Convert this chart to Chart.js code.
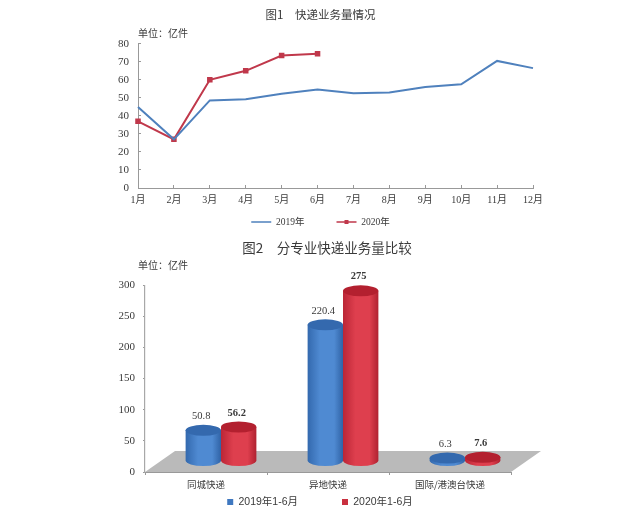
<!DOCTYPE html>
<html><head><meta charset="utf-8">
<script src="https://cdn.jsdelivr.net/npm/chart.js@4"></script>
<style>
html,body{margin:0;padding:0;background:#fff}
#a,#b{position:absolute;left:0;filter:blur(0.55px)}
#a{top:0}#b{top:235px}
</style></head><body>
<div id="a" style="width:630px;height:234px"><canvas id="c1"></canvas></div>
<div id="b" style="width:630px;height:279px"><canvas id="c2"></canvas></div>
<script>
const months=['1月','2月','3月','4月','5月','6月','7月','8月','9月','10月','11月','12月'];
const lineTicksMax=80;
const y2019=[45,27,48.6,49.3,52.3,54.6,52.5,53,56,57.5,70.5,66.5];
const y2020=[37,27,60,65,73.5,74.5];
const cats=['同城快递','异地快递','国际/港澳台快递'];
const h1=[50.8,220.4,6.3];
const h2=[56.2,275,7.6];
const h1Labels=['50.8','220.4','6.3'];
const h2Labels=['56.2','275','7.6'];
const serif='"Liberation Serif","Noto Sans CJK SC",serif';
const cjk='"Noto Sans CJK SC",sans-serif';
const ink='#3a3a3a';
Chart.defaults.animation=false;
Chart.defaults.responsive=true;
Chart.defaults.maintainAspectRatio=false;
Chart.defaults.devicePixelRatio=1;

const unitText=(x,y)=>({id:'unit',afterDraw(c){const g=c.ctx;g.save();g.font='10px '+cjk;g.fillStyle=ink;g.textAlign='left';g.textBaseline='middle';g.fillText('单位：亿件',x,y);g.restore();}});

/* The legend's horizontal item gap and its vertical padding share one option: keep the gap, report a short box. */
const slimLegend=(H,dx,titleDx,after)=>({id:'slimLegend',beforeLayout(c){
  const l=c.legend;if(l._slim)return;l._slim=true;
  const fit=l.fit.bind(l),draw=l._draw.bind(l);
  l.fit=()=>{fit();l.height=H;};
  l._draw=()=>{const g=c.ctx,p=l.options.labels.padding,fs=l.options.labels.font.size;
    g.save();g.translate(dx,-(p+fs/2-H/2));draw();if(after)after(c,g);g.restore();};
  const t=c.titleBlock,td=t.draw.bind(t);
  t.draw=()=>{c.ctx.save();c.ctx.translate(titleDx,0);td();c.ctx.restore();};
}});
const marker=(c,g)=>{const b=c.legend.legendHitBoxes[1];g.fillStyle='#c0384b';const cx=b.left+10,cy=b.top+b.height/2;g.fillRect(cx-2,cy-2,4,4);};

new Chart(document.getElementById('c1'),{type:'line',
 data:{labels:months,datasets:[
  {label:'2019年',data:y2019,borderColor:'#4f81bd',backgroundColor:'#4f81bd',borderWidth:2,pointRadius:0,tension:0},
  {label:'2020年',data:y2020,borderColor:'#c0384b',backgroundColor:'#c0384b',borderWidth:2,pointStyle:'rect',pointRadius:2.5,pointBackgroundColor:'#c0384b',pointBorderColor:'#c0384b',tension:0}
 ]},
 options:{
  layout:{padding:{left:108,right:97,top:0,bottom:4}},
  plugins:{
   title:{display:true,text:'图1　快递业务量情况',color:ink,font:{family:cjk,size:11.5,weight:'normal'},padding:{top:8,bottom:22}},
   legend:{position:'bottom',labels:{boxWidth:20,boxHeight:0,color:ink,font:{family:serif,size:9.5},padding:32,
     generateLabels(c){return c.data.datasets.map((d,i)=>({text:d.label,fillStyle:d.borderColor,strokeStyle:d.borderColor,lineWidth:1.5,datasetIndex:i,fontColor:ink}));}}},
   tooltip:{enabled:false}
  },
  scales:{
   x:{offset:false,grid:{drawOnChartArea:false,tickLength:-3,color:'#999',tickColor:'#999'},border:{color:'#999',width:1},
      ticks:{color:ink,font:{family:serif,size:10},padding:9,maxRotation:0,autoSkip:false},afterFit(s){s.height=26;}},
   y:{min:0,max:lineTicksMax,grid:{drawOnChartArea:false,tickLength:-3,color:'#999',tickColor:'#999'},border:{color:'#999',width:1},
      ticks:{stepSize:10,color:ink,font:{family:serif,size:11},padding:12},afterFit(s){s.width=30;}}
  }},
 plugins:[unitText(138,33),slimLegend(16,0,0,marker)]
});

/* 3-D look: floor and cylinders are painted from the bar elements' own scale positions */
const DX=15,DY=-10,BASE_DY=-11;
const colours=[{l:'#3369ae',m:'#4f8ad2',d:'#3063a6',t:'#3469ae'},{l:'#bb2636',m:'#de3f4e',d:'#b02231',t:'#b3202f'}];
const depth={id:'depth',
 beforeDatasetsDraw(c){
  const g=c.ctx,a=c.chartArea,y0=c.scales.y.getPixelForValue(0);
  g.save();g.fillStyle='#bababa';g.beginPath();
  g.moveTo(a.left,y0);g.lineTo(a.left+30,y0-21);g.lineTo(a.right+30,y0-21);g.lineTo(a.right,y0);g.closePath();g.fill();g.restore();
 },
 afterDatasetsDraw(c){
  const g=c.ctx;
  [0,1].forEach(ds=>{
   c.getDatasetMeta(ds).data.forEach((b,i)=>{
    const w=b.width,x=b.x+DX,top=b.y+DY,bot=b.base+BASE_DY,rx=w/2,ry=5.5,col=colours[ds];
    const gr=g.createLinearGradient(x-rx,0,x+rx,0);
    gr.addColorStop(0,col.l);gr.addColorStop(.35,col.m);gr.addColorStop(.75,col.m);gr.addColorStop(1,col.d);
    g.save();g.fillStyle=gr;g.beginPath();
    g.moveTo(x-rx,top);g.lineTo(x-rx,bot);g.ellipse(x,bot,rx,ry,0,Math.PI,0,true);g.lineTo(x+rx,top);g.closePath();g.fill();
    g.fillStyle=col.t;g.beginPath();g.ellipse(x,top,rx,ry,0,0,Math.PI*2);g.fill();
    g.fillStyle=ink;g.textAlign='center';g.textBaseline='middle';
    g.font=(ds?'bold ':'')+'10.5px '+serif;
    g.fillText((ds?h2Labels:h1Labels)[i],x-2,top-14);
    g.restore();
   });
  });
 }
};
new Chart(document.getElementById('c2'),{type:'bar',
 data:{labels:cats,datasets:[
  {label:'2019年1-6月',data:h1,backgroundColor:'rgba(79,129,189,0)',borderWidth:0,categoryPercentage:.58,barPercentage:1,legendColor:'#3f78c0'},
  {label:'2020年1-6月',data:h2,backgroundColor:'rgba(192,56,75,0)',borderWidth:0,categoryPercentage:.58,barPercentage:1,legendColor:'#c9303f'}
 ]},
 options:{
  layout:{padding:{left:114,right:119,top:0,bottom:4}},
  plugins:{
   title:{display:true,text:'图2　分专业快递业务量比较',color:ink,font:{family:cjk,size:13.5,weight:'normal'},padding:{top:5,bottom:29}},
   legend:{position:'bottom',labels:{boxWidth:6,boxHeight:6,color:ink,font:{family:'"Liberation Sans","Noto Sans CJK SC",sans-serif',size:10.5},padding:44,
     generateLabels(c){return c.data.datasets.map((d,i)=>({text:d.label,fillStyle:d.legendColor,strokeStyle:d.legendColor,lineWidth:0,datasetIndex:i,fontColor:ink}));}}},
   tooltip:{enabled:false}
  },
  scales:{
   x:{grid:{drawOnChartArea:false,tickLength:3,color:'#999',tickColor:'#999',offset:true},border:{color:'#999',width:1},
      ticks:{color:ink,font:{family:cjk,size:9.5},padding:4,maxRotation:0,autoSkip:false},afterFit(s){s.height=22;}},
   y:{min:0,max:300,grid:{drawOnChartArea:false,tickLength:2,color:'#999',tickColor:'#999'},border:{color:'#a8a8a8',width:1.2},
      ticks:{stepSize:50,color:ink,font:{family:serif,size:11},padding:8},afterFit(s){s.width=31;}}
  }},
 plugins:[unitText(138,30),slimLegend(16,7.5,14.5),depth]
});
</script></body></html>
